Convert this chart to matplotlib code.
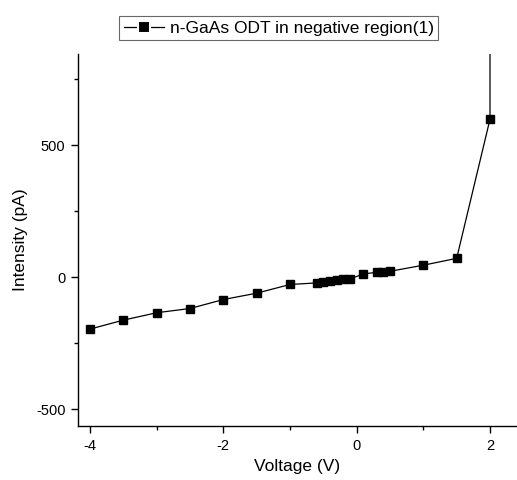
import matplotlib
matplotlib.use("Agg")
import matplotlib.pyplot as plt
from matplotlib.ticker import MultipleLocator
from matplotlib.lines import Line2D

plt.rcParams['font.family'] = ['Liberation Sans', 'DejaVu Sans']
plt.rcParams['axes.unicode_minus'] = False

voltage = [-4.0, -3.5, -3.0, -2.5, -2.0, -1.5, -1.0,
           -0.6, -0.5, -0.4, -0.3, -0.2, -0.1,
           0.1, 0.3, 0.4, 0.5, 1.0, 1.5, 2.0, 2.0]
intensity = [-197, -163, -135, -119, -85, -61, -28,
             -22, -19, -16, -12, -9, -7,
             12, 18, 20, 22, 45, 71, 598, 3000]
label = 'n-GaAs ODT in negative region(1)'

fig = plt.figure(figsize=(5.17, 4.8), dpi=100)
ax = fig.add_axes([78/517, 54/480, 1 - 78/517, 372/480])

ax.plot(voltage, intensity, '-', color='black', lw=0.9,
        marker='s', markersize=6, markerfacecolor='black',
        markeredgecolor='black')

ax.set_xlim(-4.18, 2.405)
ax.set_ylim(-564, 845)
ax.xaxis.set_major_locator(MultipleLocator(2))
ax.xaxis.set_minor_locator(MultipleLocator(1))
ax.yaxis.set_major_locator(MultipleLocator(500))
ax.yaxis.set_minor_locator(MultipleLocator(250))

for s in ['top', 'right']:
    ax.spines[s].set_visible(False)
for s in ['left', 'bottom']:
    ax.spines[s].set_linewidth(1.0)

ax.tick_params(which='major', direction='out', length=5, width=1, labelsize=10.5, pad=4)
ax.tick_params(which='minor', direction='out', length=3, width=1)

ax.set_xlabel('Voltage (V)', fontsize=12.5, labelpad=5)
ax.set_ylabel('Intensity (pA)', fontsize=12.5, labelpad=6)

# legend handle with small gaps around the marker
proxy = Line2D([], [], color='black', lw=0.9, marker='s', markersize=8,
               markerfacecolor='black', markeredgecolor='white', markeredgewidth=1.5)
leg = fig.legend(handles=[proxy], labels=[label], loc='upper center',
                 bbox_to_anchor=(0.539, 0.966), fontsize=12.5, frameon=True,
                 fancybox=False, handlelength=2.3, handletextpad=0.35,
                 borderpad=0.25, borderaxespad=0)
leg.get_frame().set_edgecolor('#444444')
leg.get_frame().set_linewidth(0.8)

fig.savefig('out.png', dpi=100)
